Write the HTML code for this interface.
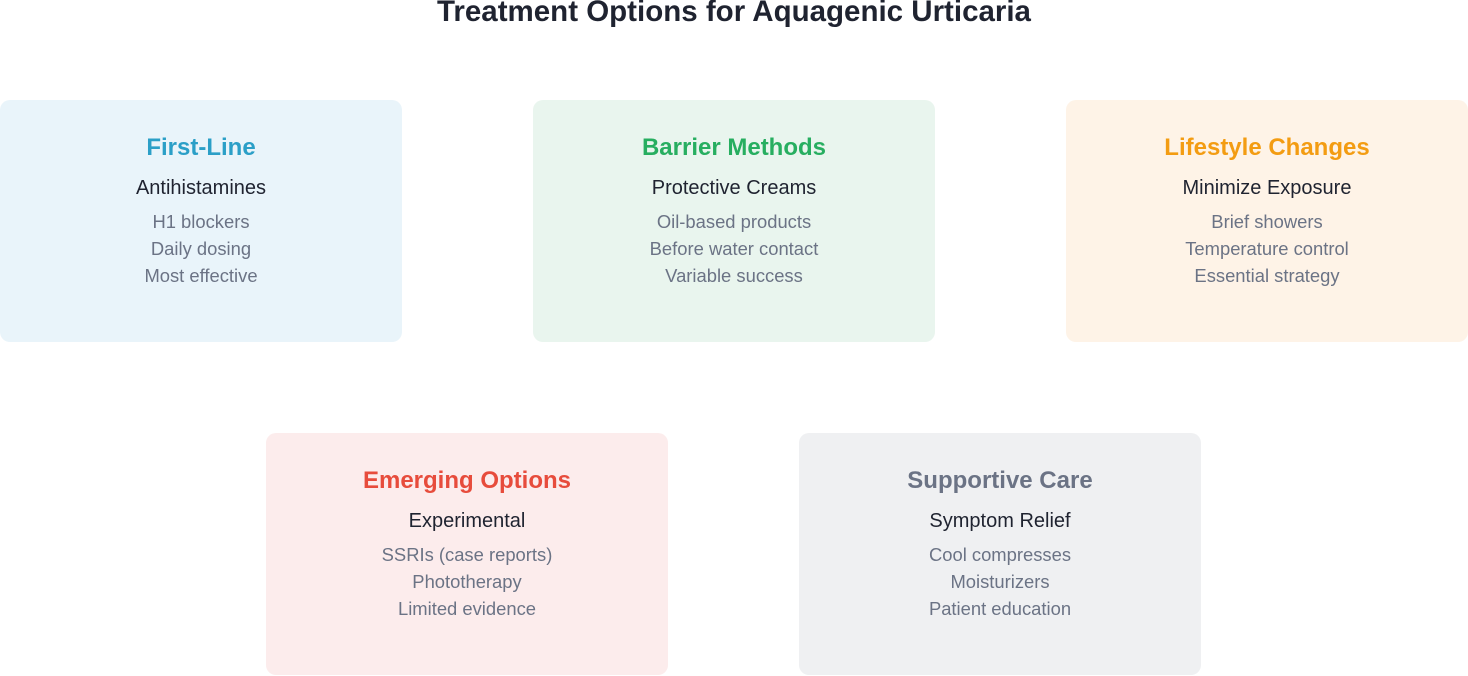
<!DOCTYPE html>
<html><head><meta charset="utf-8"><style>
body{margin:0;width:1468px;height:676px;background:#fff;position:relative;overflow:hidden;font-family:"Liberation Sans",Arial,sans-serif;}
.t{position:absolute;left:0;width:1468px;text-align:center;top:-5px;font-size:29.5px;font-weight:bold;color:#1f2330;}
.b{position:absolute;width:402px;height:242px;border-radius:10px;text-align:center;}
.h{position:absolute;top:34px;width:100%;font-size:24px;font-weight:bold;}
.s{position:absolute;top:77px;width:100%;font-size:20px;color:#1f2330;}
.i{position:absolute;width:100%;font-size:18.4px;color:#6b7385;}
</style></head><body>
<div class="t">Treatment Options for Aquagenic Urticaria</div>

<div class="b" style="left:0;top:100px;background:#e9f4fa">
<div class="h" style="color:#2b9fc7">First-Line</div><div class="s">Antihistamines</div>
<div class="i" style="top:111px">H1 blockers</div><div class="i" style="top:138px">Daily dosing</div><div class="i" style="top:165px">Most effective</div></div>

<div class="b" style="left:533px;top:100px;background:#e9f5ee">
<div class="h" style="color:#27ae60">Barrier Methods</div><div class="s">Protective Creams</div>
<div class="i" style="top:111px">Oil-based products</div><div class="i" style="top:138px">Before water contact</div><div class="i" style="top:165px">Variable success</div></div>

<div class="b" style="left:1066px;top:100px;background:#fef3e7">
<div class="h" style="color:#f39c12">Lifestyle Changes</div><div class="s">Minimize Exposure</div>
<div class="i" style="top:111px">Brief showers</div><div class="i" style="top:138px">Temperature control</div><div class="i" style="top:165px">Essential strategy</div></div>

<div class="b" style="left:266px;top:433px;background:#fcecec">
<div class="h" style="color:#e74c3c">Emerging Options</div><div class="s">Experimental</div>
<div class="i" style="top:111px">SSRIs (case reports)</div><div class="i" style="top:138px">Phototherapy</div><div class="i" style="top:165px">Limited evidence</div></div>

<div class="b" style="left:799px;top:433px;background:#eff0f2">
<div class="h" style="color:#6b7385">Supportive Care</div><div class="s">Symptom Relief</div>
<div class="i" style="top:111px">Cool compresses</div><div class="i" style="top:138px">Moisturizers</div><div class="i" style="top:165px">Patient education</div></div>
</body></html>
